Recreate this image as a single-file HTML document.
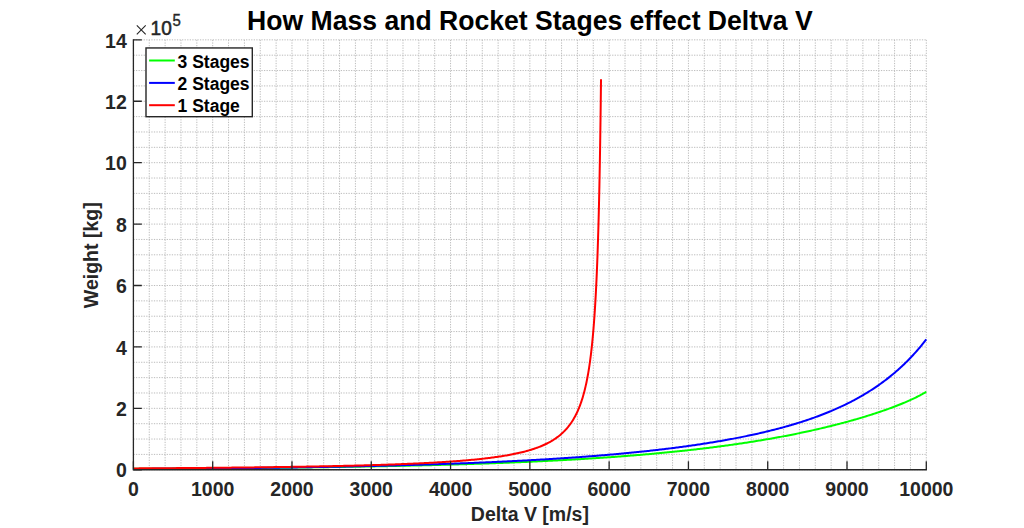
<!DOCTYPE html>
<html><head><meta charset="utf-8"><style>
html,body{margin:0;padding:0;background:#fff;width:1024px;height:528px;overflow:hidden}
svg{display:block;font-family:"Liberation Sans",sans-serif}
</style></head><body>
<svg width="1024" height="528" viewBox="0 0 1024 528">
<rect width="1024" height="528" fill="#fff"/>
<path d="M133.40,39.85V469.75M149.26,39.85V469.75M165.12,39.85V469.75M180.97,39.85V469.75M196.83,39.85V469.75M212.69,39.85V469.75M228.55,39.85V469.75M244.41,39.85V469.75M260.26,39.85V469.75M276.12,39.85V469.75M291.98,39.85V469.75M307.84,39.85V469.75M323.70,39.85V469.75M339.55,39.85V469.75M355.41,39.85V469.75M371.27,39.85V469.75M387.13,39.85V469.75M402.99,39.85V469.75M418.84,39.85V469.75M434.70,39.85V469.75M450.56,39.85V469.75M466.42,39.85V469.75M482.28,39.85V469.75M498.13,39.85V469.75M513.99,39.85V469.75M529.85,39.85V469.75M545.71,39.85V469.75M561.57,39.85V469.75M577.42,39.85V469.75M593.28,39.85V469.75M609.14,39.85V469.75M625.00,39.85V469.75M640.86,39.85V469.75M656.71,39.85V469.75M672.57,39.85V469.75M688.43,39.85V469.75M704.29,39.85V469.75M720.15,39.85V469.75M736.00,39.85V469.75M751.86,39.85V469.75M767.72,39.85V469.75M783.58,39.85V469.75M799.44,39.85V469.75M815.29,39.85V469.75M831.15,39.85V469.75M847.01,39.85V469.75M862.87,39.85V469.75M878.73,39.85V469.75M894.58,39.85V469.75M910.44,39.85V469.75M926.30,39.85V469.75" stroke="#bcbcbc" stroke-width="1" stroke-dasharray="1.28 1.28" fill="none"/><path d="M133.40,469.75H926.30M133.40,454.40H926.30M133.40,439.04H926.30M133.40,423.69H926.30M133.40,408.34H926.30M133.40,392.98H926.30M133.40,377.63H926.30M133.40,362.27H926.30M133.40,346.92H926.30M133.40,331.57H926.30M133.40,316.21H926.30M133.40,300.86H926.30M133.40,285.51H926.30M133.40,270.15H926.30M133.40,254.80H926.30M133.40,239.45H926.30M133.40,224.09H926.30M133.40,208.74H926.30M133.40,193.39H926.30M133.40,178.03H926.30M133.40,162.68H926.30M133.40,147.33H926.30M133.40,131.97H926.30M133.40,116.62H926.30M133.40,101.26H926.30M133.40,85.91H926.30M133.40,70.56H926.30M133.40,55.20H926.30M133.40,39.85H926.30" stroke="#bcbcbc" stroke-width="1" stroke-dasharray="1.28 1.28" fill="none"/>
<g fill="none" stroke-width="2.0" stroke-linejoin="round">
<path d="M133.40,468.83 L134.67,468.83 L135.94,468.82 L137.21,468.81 L138.48,468.81 L139.74,468.80 L141.01,468.79 L142.28,468.79 L143.55,468.78 L144.82,468.78 L146.09,468.77 L147.36,468.76 L148.63,468.76 L149.90,468.75 L151.16,468.74 L152.43,468.74 L153.70,468.73 L154.97,468.72 L156.24,468.72 L157.51,468.71 L158.78,468.70 L160.05,468.70 L161.32,468.69 L162.58,468.68 L163.85,468.67 L165.12,468.67 L166.39,468.66 L167.66,468.65 L168.93,468.64 L170.20,468.64 L171.47,468.63 L172.74,468.62 L174.00,468.61 L175.27,468.61 L176.54,468.60 L177.81,468.59 L179.08,468.58 L180.35,468.58 L181.62,468.57 L182.89,468.56 L184.16,468.55 L185.42,468.54 L186.69,468.54 L187.96,468.53 L189.23,468.52 L190.50,468.51 L191.77,468.50 L193.04,468.49 L194.31,468.49 L195.58,468.48 L196.84,468.47 L198.11,468.46 L199.38,468.45 L200.65,468.44 L201.92,468.43 L203.19,468.43 L204.46,468.42 L205.73,468.41 L207.00,468.40 L208.26,468.39 L209.53,468.38 L210.80,468.37 L212.07,468.36 L213.34,468.35 L214.61,468.34 L215.88,468.33 L217.15,468.32 L218.42,468.31 L219.68,468.30 L220.95,468.29 L222.22,468.28 L223.49,468.27 L224.76,468.26 L226.03,468.25 L227.30,468.24 L228.57,468.23 L229.84,468.22 L231.10,468.21 L232.37,468.20 L233.64,468.19 L234.91,468.18 L236.18,468.17 L237.45,468.16 L238.72,468.15 L239.99,468.14 L241.26,468.13 L242.52,468.11 L243.79,468.10 L245.06,468.09 L246.33,468.08 L247.60,468.07 L248.87,468.06 L250.14,468.05 L251.41,468.03 L252.68,468.02 L253.94,468.01 L255.21,468.00 L256.48,467.99 L257.75,467.97 L259.02,467.96 L260.29,467.95 L261.56,467.94 L262.83,467.92 L264.10,467.91 L265.36,467.90 L266.63,467.89 L267.90,467.87 L269.17,467.86 L270.44,467.85 L271.71,467.83 L272.98,467.82 L274.25,467.81 L275.52,467.79 L276.78,467.78 L278.05,467.77 L279.32,467.75 L280.59,467.74 L281.86,467.73 L283.13,467.71 L284.40,467.70 L285.67,467.68 L286.94,467.67 L288.21,467.65 L289.47,467.64 L290.74,467.63 L292.01,467.61 L293.28,467.60 L294.55,467.58 L295.82,467.57 L297.09,467.55 L298.36,467.54 L299.63,467.52 L300.89,467.50 L302.16,467.49 L303.43,467.47 L304.70,467.46 L305.97,467.44 L307.24,467.43 L308.51,467.41 L309.78,467.39 L311.05,467.38 L312.31,467.36 L313.58,467.34 L314.85,467.33 L316.12,467.31 L317.39,467.29 L318.66,467.28 L319.93,467.26 L321.20,467.24 L322.47,467.22 L323.73,467.21 L325.00,467.19 L326.27,467.17 L327.54,467.15 L328.81,467.13 L330.08,467.12 L331.35,467.10 L332.62,467.08 L333.89,467.06 L335.15,467.04 L336.42,467.02 L337.69,467.00 L338.96,466.98 L340.23,466.96 L341.50,466.94 L342.77,466.92 L344.04,466.90 L345.31,466.88 L346.57,466.86 L347.84,466.84 L349.11,466.82 L350.38,466.80 L351.65,466.78 L352.92,466.76 L354.19,466.74 L355.46,466.72 L356.73,466.70 L357.99,466.68 L359.26,466.66 L360.53,466.63 L361.80,466.61 L363.07,466.59 L364.34,466.57 L365.61,466.55 L366.88,466.52 L368.15,466.50 L369.41,466.48 L370.68,466.45 L371.95,466.43 L373.22,466.41 L374.49,466.38 L375.76,466.36 L377.03,466.34 L378.30,466.31 L379.57,466.29 L380.83,466.26 L382.10,466.24 L383.37,466.21 L384.64,466.19 L385.91,466.16 L387.18,466.14 L388.45,466.11 L389.72,466.09 L390.99,466.06 L392.25,466.04 L393.52,466.01 L394.79,465.98 L396.06,465.96 L397.33,465.93 L398.60,465.90 L399.87,465.88 L401.14,465.85 L402.41,465.82 L403.67,465.79 L404.94,465.76 L406.21,465.74 L407.48,465.71 L408.75,465.68 L410.02,465.65 L411.29,465.62 L412.56,465.59 L413.83,465.56 L415.09,465.53 L416.36,465.50 L417.63,465.47 L418.90,465.44 L420.17,465.41 L421.44,465.38 L422.71,465.35 L423.98,465.32 L425.25,465.29 L426.51,465.26 L427.78,465.23 L429.05,465.19 L430.32,465.16 L431.59,465.13 L432.86,465.10 L434.13,465.06 L435.40,465.03 L436.67,465.00 L437.93,464.96 L439.20,464.93 L440.47,464.89 L441.74,464.86 L443.01,464.82 L444.28,464.79 L445.55,464.75 L446.82,464.72 L448.09,464.68 L449.35,464.65 L450.62,464.61 L451.89,464.57 L453.16,464.54 L454.43,464.50 L455.70,464.46 L456.97,464.43 L458.24,464.39 L459.51,464.35 L460.77,464.31 L462.04,464.27 L463.31,464.23 L464.58,464.19 L465.85,464.16 L467.12,464.12 L468.39,464.08 L469.66,464.03 L470.93,463.99 L472.19,463.95 L473.46,463.91 L474.73,463.87 L476.00,463.83 L477.27,463.79 L478.54,463.74 L479.81,463.70 L481.08,463.66 L482.35,463.61 L483.61,463.57 L484.88,463.53 L486.15,463.48 L487.42,463.44 L488.69,463.39 L489.96,463.35 L491.23,463.30 L492.50,463.26 L493.77,463.21 L495.03,463.16 L496.30,463.12 L497.57,463.07 L498.84,463.02 L500.11,462.97 L501.38,462.93 L502.65,462.88 L503.92,462.83 L505.19,462.78 L506.45,462.73 L507.72,462.68 L508.99,462.63 L510.26,462.58 L511.53,462.53 L512.80,462.47 L514.07,462.42 L515.34,462.37 L516.61,462.32 L517.87,462.26 L519.14,462.21 L520.41,462.16 L521.68,462.10 L522.95,462.05 L524.22,461.99 L525.49,461.94 L526.76,461.88 L528.03,461.83 L529.29,461.77 L530.56,461.71 L531.83,461.65 L533.10,461.60 L534.37,461.54 L535.64,461.48 L536.91,461.42 L538.18,461.36 L539.45,461.30 L540.71,461.24 L541.98,461.18 L543.25,461.12 L544.52,461.06 L545.79,460.99 L547.06,460.93 L548.33,460.87 L549.60,460.81 L550.87,460.74 L552.13,460.68 L553.40,460.61 L554.67,460.55 L555.94,460.48 L557.21,460.41 L558.48,460.35 L559.75,460.28 L561.02,460.21 L562.29,460.14 L563.55,460.08 L564.82,460.01 L566.09,459.94 L567.36,459.87 L568.63,459.80 L569.90,459.72 L571.17,459.65 L572.44,459.58 L573.71,459.51 L574.98,459.43 L576.24,459.36 L577.51,459.29 L578.78,459.21 L580.05,459.14 L581.32,459.06 L582.59,458.98 L583.86,458.91 L585.13,458.83 L586.40,458.75 L587.66,458.67 L588.93,458.59 L590.20,458.51 L591.47,458.43 L592.74,458.35 L594.01,458.27 L595.28,458.19 L596.55,458.10 L597.82,458.02 L599.08,457.94 L600.35,457.85 L601.62,457.77 L602.89,457.68 L604.16,457.59 L605.43,457.51 L606.70,457.42 L607.97,457.33 L609.24,457.24 L610.50,457.15 L611.77,457.06 L613.04,456.97 L614.31,456.88 L615.58,456.79 L616.85,456.69 L618.12,456.60 L619.39,456.50 L620.66,456.41 L621.92,456.31 L623.19,456.22 L624.46,456.12 L625.73,456.02 L627.00,455.92 L628.27,455.83 L629.54,455.73 L630.81,455.62 L632.08,455.52 L633.34,455.42 L634.61,455.32 L635.88,455.21 L637.15,455.11 L638.42,455.01 L639.69,454.90 L640.96,454.79 L642.23,454.69 L643.50,454.58 L644.76,454.47 L646.03,454.36 L647.30,454.25 L648.57,454.14 L649.84,454.02 L651.11,453.91 L652.38,453.80 L653.65,453.68 L654.92,453.57 L656.18,453.45 L657.45,453.34 L658.72,453.22 L659.99,453.10 L661.26,452.98 L662.53,452.86 L663.80,452.74 L665.07,452.61 L666.34,452.49 L667.60,452.37 L668.87,452.24 L670.14,452.12 L671.41,451.99 L672.68,451.86 L673.95,451.73 L675.22,451.60 L676.49,451.47 L677.76,451.34 L679.02,451.21 L680.29,451.08 L681.56,450.94 L682.83,450.81 L684.10,450.67 L685.37,450.54 L686.64,450.40 L687.91,450.26 L689.18,450.12 L690.44,449.98 L691.71,449.83 L692.98,449.69 L694.25,449.55 L695.52,449.40 L696.79,449.26 L698.06,449.11 L699.33,448.96 L700.60,448.81 L701.86,448.66 L703.13,448.51 L704.40,448.36 L705.67,448.20 L706.94,448.05 L708.21,447.89 L709.48,447.73 L710.75,447.58 L712.02,447.42 L713.28,447.26 L714.55,447.09 L715.82,446.93 L717.09,446.77 L718.36,446.60 L719.63,446.43 L720.90,446.27 L722.17,446.10 L723.44,445.93 L724.70,445.76 L725.97,445.58 L727.24,445.41 L728.51,445.23 L729.78,445.06 L731.05,444.88 L732.32,444.70 L733.59,444.52 L734.86,444.34 L736.12,444.16 L737.39,443.97 L738.66,443.79 L739.93,443.60 L741.20,443.41 L742.47,443.22 L743.74,443.03 L745.01,442.84 L746.28,442.65 L747.54,442.45 L748.81,442.26 L750.08,442.06 L751.35,441.86 L752.62,441.66 L753.89,441.46 L755.16,441.25 L756.43,441.05 L757.70,440.84 L758.96,440.63 L760.23,440.42 L761.50,440.21 L762.77,440.00 L764.04,439.78 L765.31,439.57 L766.58,439.35 L767.85,439.13 L769.12,438.91 L770.38,438.69 L771.65,438.47 L772.92,438.24 L774.19,438.01 L775.46,437.79 L776.73,437.56 L778.00,437.32 L779.27,437.09 L780.54,436.86 L781.80,436.62 L783.07,436.38 L784.34,436.14 L785.61,435.90 L786.88,435.65 L788.15,435.41 L789.42,435.16 L790.69,434.91 L791.96,434.66 L793.22,434.41 L794.49,434.15 L795.76,433.90 L797.03,433.64 L798.30,433.38 L799.57,433.12 L800.84,432.85 L802.11,432.59 L803.38,432.32 L804.64,432.05 L805.91,431.78 L807.18,431.50 L808.45,431.23 L809.72,430.95 L810.99,430.67 L812.26,430.39 L813.53,430.10 L814.80,429.82 L816.06,429.53 L817.33,429.24 L818.60,428.95 L819.87,428.65 L821.14,428.36 L822.41,428.06 L823.68,427.76 L824.95,427.46 L826.22,427.15 L827.48,426.84 L828.75,426.53 L830.02,426.22 L831.29,425.91 L832.56,425.59 L833.83,425.27 L835.10,424.95 L836.37,424.63 L837.64,424.30 L838.90,423.97 L840.17,423.64 L841.44,423.31 L842.71,422.97 L843.98,422.63 L845.25,422.29 L846.52,421.95 L847.79,421.60 L849.06,421.25 L850.32,420.90 L851.59,420.54 L852.86,420.19 L854.13,419.83 L855.40,419.46 L856.67,419.10 L857.94,418.73 L859.21,418.36 L860.48,417.98 L861.75,417.61 L863.01,417.23 L864.28,416.84 L865.55,416.46 L866.82,416.07 L868.09,415.67 L869.36,415.28 L870.63,414.88 L871.90,414.47 L873.17,414.07 L874.43,413.65 L875.70,413.24 L876.97,412.82 L878.24,412.40 L879.51,411.97 L880.78,411.55 L882.05,411.11 L883.32,410.67 L884.59,410.23 L885.85,409.78 L887.12,409.33 L888.39,408.88 L889.66,408.42 L890.93,407.95 L892.20,407.48 L893.47,407.00 L894.74,406.52 L896.01,406.03 L897.27,405.54 L898.54,405.04 L899.81,404.53 L901.08,404.02 L902.35,403.50 L903.46,403.04 L904.57,402.57 L905.68,402.10 L906.79,401.62 L907.90,401.14 L909.01,400.65 L910.12,400.15 L911.23,399.64 L912.34,399.13 L913.45,398.60 L914.56,398.07 L915.67,397.54 L916.78,396.99 L917.89,396.43 L919.00,395.86 L920.11,395.29 L921.22,394.70 L922.33,394.10 L923.44,393.48 L924.56,392.86 L925.67,392.22 L926.30,391.85" stroke="#00ff00"/>
<path d="M133.40,469.00 L134.67,468.99 L135.94,468.98 L137.21,468.97 L138.48,468.97 L139.74,468.96 L141.01,468.95 L142.28,468.94 L143.55,468.93 L144.82,468.92 L146.09,468.92 L147.36,468.91 L148.63,468.90 L149.90,468.89 L151.16,468.88 L152.43,468.87 L153.70,468.87 L154.97,468.86 L156.24,468.85 L157.51,468.84 L158.78,468.83 L160.05,468.82 L161.32,468.81 L162.58,468.80 L163.85,468.79 L165.12,468.79 L166.39,468.78 L167.66,468.77 L168.93,468.76 L170.20,468.75 L171.47,468.74 L172.74,468.73 L174.00,468.72 L175.27,468.71 L176.54,468.70 L177.81,468.69 L179.08,468.68 L180.35,468.67 L181.62,468.66 L182.89,468.65 L184.16,468.64 L185.42,468.63 L186.69,468.62 L187.96,468.61 L189.23,468.60 L190.50,468.59 L191.77,468.58 L193.04,468.57 L194.31,468.56 L195.58,468.55 L196.84,468.53 L198.11,468.52 L199.38,468.51 L200.65,468.50 L201.92,468.49 L203.19,468.48 L204.46,468.47 L205.73,468.46 L207.00,468.44 L208.26,468.43 L209.53,468.42 L210.80,468.41 L212.07,468.40 L213.34,468.38 L214.61,468.37 L215.88,468.36 L217.15,468.35 L218.42,468.34 L219.68,468.32 L220.95,468.31 L222.22,468.30 L223.49,468.29 L224.76,468.27 L226.03,468.26 L227.30,468.25 L228.57,468.23 L229.84,468.22 L231.10,468.21 L232.37,468.19 L233.64,468.18 L234.91,468.17 L236.18,468.15 L237.45,468.14 L238.72,468.13 L239.99,468.11 L241.26,468.10 L242.52,468.08 L243.79,468.07 L245.06,468.06 L246.33,468.04 L247.60,468.03 L248.87,468.01 L250.14,468.00 L251.41,467.98 L252.68,467.97 L253.94,467.95 L255.21,467.94 L256.48,467.92 L257.75,467.91 L259.02,467.89 L260.29,467.88 L261.56,467.86 L262.83,467.85 L264.10,467.83 L265.36,467.81 L266.63,467.80 L267.90,467.78 L269.17,467.77 L270.44,467.75 L271.71,467.73 L272.98,467.72 L274.25,467.70 L275.52,467.68 L276.78,467.67 L278.05,467.65 L279.32,467.63 L280.59,467.61 L281.86,467.60 L283.13,467.58 L284.40,467.56 L285.67,467.54 L286.94,467.52 L288.21,467.51 L289.47,467.49 L290.74,467.47 L292.01,467.45 L293.28,467.43 L294.55,467.41 L295.82,467.40 L297.09,467.38 L298.36,467.36 L299.63,467.34 L300.89,467.32 L302.16,467.30 L303.43,467.28 L304.70,467.26 L305.97,467.24 L307.24,467.22 L308.51,467.20 L309.78,467.18 L311.05,467.16 L312.31,467.14 L313.58,467.12 L314.85,467.10 L316.12,467.07 L317.39,467.05 L318.66,467.03 L319.93,467.01 L321.20,466.99 L322.47,466.97 L323.73,466.94 L325.00,466.92 L326.27,466.90 L327.54,466.88 L328.81,466.85 L330.08,466.83 L331.35,466.81 L332.62,466.79 L333.89,466.76 L335.15,466.74 L336.42,466.72 L337.69,466.69 L338.96,466.67 L340.23,466.64 L341.50,466.62 L342.77,466.59 L344.04,466.57 L345.31,466.54 L346.57,466.52 L347.84,466.49 L349.11,466.47 L350.38,466.44 L351.65,466.42 L352.92,466.39 L354.19,466.37 L355.46,466.34 L356.73,466.31 L357.99,466.29 L359.26,466.26 L360.53,466.23 L361.80,466.21 L363.07,466.18 L364.34,466.15 L365.61,466.12 L366.88,466.09 L368.15,466.07 L369.41,466.04 L370.68,466.01 L371.95,465.98 L373.22,465.95 L374.49,465.92 L375.76,465.89 L377.03,465.86 L378.30,465.83 L379.57,465.80 L380.83,465.77 L382.10,465.74 L383.37,465.71 L384.64,465.68 L385.91,465.65 L387.18,465.62 L388.45,465.59 L389.72,465.56 L390.99,465.52 L392.25,465.49 L393.52,465.46 L394.79,465.43 L396.06,465.39 L397.33,465.36 L398.60,465.33 L399.87,465.29 L401.14,465.26 L402.41,465.23 L403.67,465.19 L404.94,465.16 L406.21,465.12 L407.48,465.09 L408.75,465.05 L410.02,465.02 L411.29,464.98 L412.56,464.94 L413.83,464.91 L415.09,464.87 L416.36,464.83 L417.63,464.80 L418.90,464.76 L420.17,464.72 L421.44,464.68 L422.71,464.65 L423.98,464.61 L425.25,464.57 L426.51,464.53 L427.78,464.49 L429.05,464.45 L430.32,464.41 L431.59,464.37 L432.86,464.33 L434.13,464.29 L435.40,464.25 L436.67,464.21 L437.93,464.17 L439.20,464.12 L440.47,464.08 L441.74,464.04 L443.01,464.00 L444.28,463.95 L445.55,463.91 L446.82,463.87 L448.09,463.82 L449.35,463.78 L450.62,463.73 L451.89,463.69 L453.16,463.64 L454.43,463.60 L455.70,463.55 L456.97,463.51 L458.24,463.46 L459.51,463.41 L460.77,463.37 L462.04,463.32 L463.31,463.27 L464.58,463.22 L465.85,463.18 L467.12,463.13 L468.39,463.08 L469.66,463.03 L470.93,462.98 L472.19,462.93 L473.46,462.88 L474.73,462.83 L476.00,462.77 L477.27,462.72 L478.54,462.67 L479.81,462.62 L481.08,462.57 L482.35,462.51 L483.61,462.46 L484.88,462.40 L486.15,462.35 L487.42,462.30 L488.69,462.24 L489.96,462.19 L491.23,462.13 L492.50,462.07 L493.77,462.02 L495.03,461.96 L496.30,461.90 L497.57,461.84 L498.84,461.79 L500.11,461.73 L501.38,461.67 L502.65,461.61 L503.92,461.55 L505.19,461.49 L506.45,461.43 L507.72,461.37 L508.99,461.30 L510.26,461.24 L511.53,461.18 L512.80,461.12 L514.07,461.05 L515.34,460.99 L516.61,460.92 L517.87,460.86 L519.14,460.79 L520.41,460.73 L521.68,460.66 L522.95,460.60 L524.22,460.53 L525.49,460.46 L526.76,460.39 L528.03,460.32 L529.29,460.25 L530.56,460.18 L531.83,460.11 L533.10,460.04 L534.37,459.97 L535.64,459.90 L536.91,459.83 L538.18,459.76 L539.45,459.68 L540.71,459.61 L541.98,459.53 L543.25,459.46 L544.52,459.38 L545.79,459.31 L547.06,459.23 L548.33,459.16 L549.60,459.08 L550.87,459.00 L552.13,458.92 L553.40,458.84 L554.67,458.76 L555.94,458.68 L557.21,458.60 L558.48,458.52 L559.75,458.44 L561.02,458.35 L562.29,458.27 L563.55,458.19 L564.82,458.10 L566.09,458.02 L567.36,457.93 L568.63,457.84 L569.90,457.76 L571.17,457.67 L572.44,457.58 L573.71,457.49 L574.98,457.40 L576.24,457.31 L577.51,457.22 L578.78,457.13 L580.05,457.04 L581.32,456.94 L582.59,456.85 L583.86,456.76 L585.13,456.66 L586.40,456.57 L587.66,456.47 L588.93,456.37 L590.20,456.27 L591.47,456.18 L592.74,456.08 L594.01,455.98 L595.28,455.88 L596.55,455.77 L597.82,455.67 L599.08,455.57 L600.35,455.47 L601.62,455.36 L602.89,455.26 L604.16,455.15 L605.43,455.04 L606.70,454.94 L607.97,454.83 L609.24,454.72 L610.50,454.61 L611.77,454.50 L613.04,454.39 L614.31,454.27 L615.58,454.16 L616.85,454.05 L618.12,453.93 L619.39,453.81 L620.66,453.70 L621.92,453.58 L623.19,453.46 L624.46,453.34 L625.73,453.22 L627.00,453.10 L628.27,452.98 L629.54,452.85 L630.81,452.73 L632.08,452.61 L633.34,452.48 L634.61,452.35 L635.88,452.23 L637.15,452.10 L638.42,451.97 L639.69,451.84 L640.96,451.70 L642.23,451.57 L643.50,451.44 L644.76,451.30 L646.03,451.17 L647.30,451.03 L648.57,450.89 L649.84,450.75 L651.11,450.61 L652.38,450.47 L653.65,450.33 L654.92,450.19 L656.18,450.04 L657.45,449.90 L658.72,449.75 L659.99,449.60 L661.26,449.45 L662.53,449.30 L663.80,449.15 L665.07,449.00 L666.34,448.85 L667.60,448.69 L668.87,448.53 L670.14,448.38 L671.41,448.22 L672.68,448.06 L673.95,447.90 L675.22,447.73 L676.49,447.57 L677.76,447.41 L679.02,447.24 L680.29,447.07 L681.56,446.90 L682.83,446.73 L684.10,446.56 L685.37,446.39 L686.64,446.21 L687.91,446.04 L689.18,445.86 L690.44,445.68 L691.71,445.50 L692.98,445.32 L694.25,445.14 L695.52,444.95 L696.79,444.76 L698.06,444.58 L699.33,444.39 L700.60,444.20 L701.86,444.00 L703.13,443.81 L704.40,443.61 L705.67,443.42 L706.94,443.22 L708.21,443.02 L709.48,442.81 L710.75,442.61 L712.02,442.40 L713.28,442.20 L714.55,441.99 L715.82,441.78 L717.09,441.56 L718.36,441.35 L719.63,441.13 L720.90,440.91 L722.17,440.69 L723.44,440.47 L724.70,440.25 L725.97,440.02 L727.24,439.79 L728.51,439.56 L729.78,439.33 L731.05,439.10 L732.32,438.86 L733.59,438.62 L734.86,438.38 L736.12,438.14 L737.39,437.89 L738.66,437.64 L739.93,437.40 L741.20,437.14 L742.47,436.89 L743.74,436.63 L745.01,436.37 L746.28,436.11 L747.54,435.85 L748.81,435.58 L750.08,435.32 L751.35,435.04 L752.62,434.77 L753.89,434.49 L755.16,434.22 L756.43,433.93 L757.70,433.65 L758.96,433.36 L760.23,433.07 L761.50,432.78 L762.77,432.49 L764.04,432.19 L765.31,431.89 L766.58,431.58 L767.85,431.28 L769.12,430.97 L770.38,430.65 L771.65,430.34 L772.92,430.02 L774.19,429.70 L775.46,429.37 L776.73,429.04 L778.00,428.71 L779.27,428.37 L780.54,428.04 L781.80,427.69 L783.07,427.35 L784.34,427.00 L785.61,426.64 L786.88,426.29 L788.15,425.93 L789.42,425.56 L790.69,425.19 L791.96,424.82 L793.22,424.44 L794.49,424.06 L795.76,423.68 L797.03,423.29 L798.30,422.90 L799.57,422.50 L800.84,422.10 L802.11,421.69 L803.38,421.28 L804.64,420.87 L805.91,420.44 L807.18,420.02 L808.45,419.59 L809.72,419.16 L810.99,418.72 L812.26,418.27 L813.53,417.82 L814.80,417.37 L816.06,416.91 L817.33,416.44 L818.60,415.97 L819.87,415.49 L821.14,415.01 L822.41,414.52 L823.68,414.03 L824.95,413.53 L826.22,413.02 L827.48,412.51 L828.75,411.99 L829.86,411.53 L830.97,411.07 L832.08,410.60 L833.19,410.13 L834.31,409.65 L835.42,409.16 L836.53,408.67 L837.64,408.18 L838.75,407.67 L839.86,407.17 L840.97,406.66 L842.08,406.14 L843.19,405.61 L844.30,405.08 L845.41,404.55 L846.52,404.00 L847.63,403.46 L848.74,402.90 L849.85,402.34 L850.96,401.77 L852.07,401.20 L853.18,400.61 L854.29,400.03 L855.40,399.43 L856.51,398.83 L857.62,398.22 L858.73,397.60 L859.84,396.97 L860.95,396.34 L862.06,395.70 L863.17,395.05 L864.28,394.40 L865.39,393.73 L866.50,393.06 L867.61,392.38 L868.72,391.69 L869.83,390.99 L870.94,390.28 L872.05,389.56 L873.17,388.84 L874.28,388.10 L875.39,387.36 L876.50,386.60 L877.61,385.84 L878.72,385.06 L879.83,384.28 L880.94,383.48 L882.05,382.68 L883.16,381.86 L884.27,381.04 L885.38,380.20 L886.49,379.35 L887.44,378.61 L888.39,377.86 L889.34,377.11 L890.30,376.35 L891.25,375.57 L892.20,374.79 L893.15,374.00 L894.10,373.20 L895.05,372.39 L896.01,371.57 L896.96,370.74 L897.91,369.90 L898.86,369.05 L899.81,368.19 L900.76,367.32 L901.72,366.44 L902.67,365.55 L903.62,364.65 L904.57,363.73 L905.52,362.81 L906.47,361.87 L907.43,360.92 L908.38,359.96 L909.33,358.99 L910.28,358.00 L911.23,357.01 L912.18,356.00 L913.14,354.97 L914.09,353.94 L915.04,352.89 L915.99,351.83 L916.94,350.75 L917.73,349.84 L918.53,348.93 L919.32,348.00 L920.11,347.06 L920.91,346.11 L921.70,345.16 L922.49,344.19 L923.29,343.21 L924.08,342.22 L924.87,341.22 L925.67,340.21 L926.30,339.39" stroke="#0000ff"/>
<path d="M133.40,468.41 L134.60,468.40 L135.81,468.40 L137.01,468.39 L138.21,468.38 L139.42,468.37 L140.62,468.37 L141.82,468.36 L143.03,468.35 L144.23,468.34 L145.43,468.34 L146.64,468.33 L147.84,468.32 L149.05,468.31 L150.25,468.31 L151.45,468.30 L152.66,468.29 L153.86,468.28 L155.06,468.27 L156.27,468.27 L157.47,468.26 L158.67,468.25 L159.88,468.24 L161.08,468.23 L162.28,468.22 L163.49,468.22 L164.69,468.21 L165.89,468.20 L167.10,468.19 L168.30,468.18 L169.50,468.17 L170.71,468.16 L171.91,468.16 L173.11,468.15 L174.32,468.14 L175.52,468.13 L176.73,468.12 L177.93,468.11 L179.13,468.10 L180.34,468.09 L181.54,468.08 L182.74,468.07 L183.95,468.06 L185.15,468.05 L186.35,468.04 L187.56,468.03 L188.76,468.02 L189.96,468.01 L191.17,468.01 L192.37,468.00 L193.57,467.99 L194.78,467.98 L195.98,467.96 L197.18,467.95 L198.39,467.94 L199.59,467.93 L200.80,467.92 L202.00,467.91 L203.20,467.90 L204.41,467.89 L205.61,467.88 L206.81,467.87 L208.02,467.86 L209.22,467.85 L210.42,467.84 L211.63,467.83 L212.83,467.82 L214.03,467.80 L215.24,467.79 L216.44,467.78 L217.64,467.77 L218.85,467.76 L220.05,467.75 L221.25,467.73 L222.46,467.72 L223.66,467.71 L224.86,467.70 L226.07,467.69 L227.27,467.67 L228.48,467.66 L229.68,467.65 L230.88,467.64 L232.09,467.62 L233.29,467.61 L234.49,467.60 L235.70,467.59 L236.90,467.57 L238.10,467.56 L239.31,467.55 L240.51,467.53 L241.71,467.52 L242.92,467.51 L244.12,467.49 L245.32,467.48 L246.53,467.47 L247.73,467.45 L248.93,467.44 L250.14,467.42 L251.34,467.41 L252.54,467.40 L253.75,467.38 L254.95,467.37 L256.16,467.35 L257.36,467.34 L258.56,467.32 L259.77,467.31 L260.97,467.29 L262.17,467.28 L263.38,467.26 L264.58,467.25 L265.78,467.23 L266.99,467.21 L268.19,467.20 L269.39,467.18 L270.60,467.17 L271.80,467.15 L273.00,467.13 L274.21,467.12 L275.41,467.10 L276.61,467.08 L277.82,467.07 L279.02,467.05 L280.22,467.03 L281.43,467.01 L282.63,467.00 L283.84,466.98 L285.04,466.96 L286.24,466.94 L287.45,466.93 L288.65,466.91 L289.85,466.89 L291.06,466.87 L292.26,466.85 L293.46,466.83 L294.67,466.81 L295.87,466.79 L297.07,466.78 L298.28,466.76 L299.48,466.74 L300.68,466.72 L301.89,466.70 L303.09,466.68 L304.29,466.66 L305.50,466.63 L306.70,466.61 L307.91,466.59 L309.11,466.57 L310.31,466.55 L311.52,466.53 L312.72,466.51 L313.92,466.49 L315.13,466.46 L316.33,466.44 L317.53,466.42 L318.74,466.40 L319.94,466.37 L321.14,466.35 L322.35,466.33 L323.55,466.30 L324.75,466.28 L325.96,466.25 L327.16,466.23 L328.36,466.21 L329.57,466.18 L330.77,466.16 L331.97,466.13 L333.18,466.11 L334.38,466.08 L335.59,466.05 L336.79,466.03 L337.99,466.00 L339.20,465.97 L340.40,465.95 L341.60,465.92 L342.81,465.89 L344.01,465.87 L345.21,465.84 L346.42,465.81 L347.62,465.78 L348.82,465.75 L350.03,465.72 L351.23,465.69 L352.43,465.66 L353.64,465.63 L354.84,465.60 L356.04,465.57 L357.25,465.54 L358.45,465.51 L359.65,465.48 L360.86,465.45 L362.06,465.41 L363.27,465.38 L364.47,465.35 L365.67,465.31 L366.88,465.28 L368.08,465.25 L369.28,465.21 L370.49,465.18 L371.69,465.14 L372.89,465.11 L374.10,465.07 L375.30,465.03 L376.50,465.00 L377.71,464.96 L378.91,464.92 L380.11,464.88 L381.32,464.85 L382.52,464.81 L383.72,464.77 L384.93,464.73 L386.13,464.69 L387.34,464.65 L388.54,464.60 L389.74,464.56 L390.95,464.52 L392.15,464.48 L393.35,464.43 L394.56,464.39 L395.76,464.35 L396.96,464.30 L398.17,464.26 L399.37,464.21 L400.57,464.16 L401.78,464.12 L402.98,464.07 L404.18,464.02 L405.39,463.97 L406.59,463.92 L407.79,463.87 L409.00,463.82 L410.20,463.77 L411.40,463.72 L412.61,463.67 L413.81,463.61 L415.02,463.56 L416.22,463.50 L417.42,463.45 L418.63,463.39 L419.83,463.33 L421.03,463.28 L422.24,463.22 L423.44,463.16 L424.64,463.10 L425.85,463.04 L427.05,462.97 L428.25,462.91 L429.46,462.85 L430.66,462.78 L431.86,462.72 L433.07,462.65 L434.27,462.58 L435.47,462.51 L436.68,462.44 L437.88,462.37 L439.08,462.30 L440.29,462.23 L441.49,462.16 L442.70,462.08 L443.90,462.00 L445.10,461.93 L446.31,461.85 L447.51,461.77 L448.71,461.69 L449.92,461.61 L451.12,461.52 L452.32,461.44 L453.53,461.35 L454.73,461.26 L455.93,461.17 L457.14,461.08 L458.34,460.99 L459.54,460.90 L460.75,460.80 L461.95,460.71 L463.15,460.61 L464.36,460.51 L465.56,460.40 L466.76,460.30 L467.97,460.19 L469.17,460.09 L470.38,459.98 L471.58,459.87 L472.78,459.75 L473.99,459.64 L475.19,459.52 L476.39,459.40 L477.60,459.28 L478.80,459.15 L480.00,459.02 L481.21,458.89 L482.41,458.76 L483.61,458.62 L484.82,458.49 L486.02,458.35 L487.22,458.20 L488.43,458.06 L489.63,457.91 L490.83,457.75 L492.04,457.60 L493.24,457.44 L494.45,457.27 L495.65,457.11 L496.85,456.94 L498.06,456.76 L499.26,456.58 L500.46,456.40 L501.67,456.21 L502.87,456.02 L504.07,455.83 L505.28,455.63 L506.48,455.42 L507.68,455.21 L508.89,454.99 L510.09,454.77 L511.27,454.55 L512.45,454.32 L513.63,454.08 L514.81,453.84 L515.99,453.60 L517.17,453.34 L518.35,453.08 L519.53,452.81 L520.71,452.54 L521.89,452.26 L523.07,451.96 L524.25,451.66 L525.43,451.35 L526.61,451.04 L527.77,450.72 L528.92,450.38 L530.08,450.04 L531.23,449.69 L532.39,449.33 L533.55,448.95 L534.70,448.56 L535.86,448.16 L536.99,447.76 L538.12,447.34 L539.26,446.90 L540.39,446.46 L541.52,445.99 L542.63,445.52 L543.74,445.03 L544.85,444.52 L545.94,444.01 L547.02,443.48 L548.11,442.92 L549.17,442.36 L550.23,441.77 L551.29,441.17 L552.33,440.55 L553.37,439.91 L554.38,439.25 L555.40,438.57 L556.39,437.88 L557.38,437.16 L558.35,436.43 L559.29,435.69 L560.24,434.91 L561.16,434.13 L562.05,433.33 L562.95,432.49 L563.82,431.65 L564.67,430.79 L565.52,429.89 L566.35,428.99 L567.15,428.07 L567.93,427.14 L568.68,426.20 L569.44,425.22 L570.17,424.23 L570.88,423.23 L571.56,422.23 L572.22,421.22 L572.88,420.17 L573.52,419.12 L574.13,418.06 L574.72,417.01 L575.31,415.91 L575.88,414.82 L576.42,413.73 L576.97,412.60 L577.49,411.48 L577.98,410.37 L578.48,409.22 L578.95,408.09 L579.40,406.97 L579.85,405.81 L580.27,404.68 L580.69,403.50 L581.10,402.36 L581.50,401.17 L581.87,400.02 L582.25,398.83 L582.61,397.68 L582.96,396.49 L583.31,395.27 L583.64,394.08 L583.97,392.87 L584.28,391.70 L584.59,390.51 L584.90,389.27 L585.18,388.10 L585.46,386.89 L585.74,385.65 L586.03,384.37 L586.29,383.17 L586.55,381.93 L586.81,380.66 L587.04,379.47 L587.28,378.25 L587.51,377.00 L587.75,375.72 L587.96,374.53 L588.18,373.32 L588.39,372.07 L588.60,370.80 L588.81,369.49 L589.00,368.29 L589.19,367.07 L589.38,365.82 L589.57,364.54 L589.76,363.23 L589.95,361.89 L590.11,360.69 L590.28,359.46 L590.44,358.20 L590.61,356.92 L590.77,355.60 L590.94,354.26 L591.10,352.89 L591.24,351.68 L591.38,350.46 L591.53,349.20 L591.67,347.92 L591.81,346.62 L591.95,345.29 L592.09,343.92 L592.23,342.53 L592.38,341.11 L592.49,339.90 L592.61,338.67 L592.73,337.42 L592.85,336.14 L592.97,334.84 L593.08,333.51 L593.20,332.16 L593.32,330.78 L593.44,329.37 L593.56,327.94 L593.67,326.47 L593.79,324.98 L593.89,323.76 L593.98,322.53 L594.07,321.27 L594.17,319.99 L594.26,318.69 L594.36,317.37 L594.45,316.02 L594.55,314.65 L594.64,313.26 L594.74,311.84 L594.83,310.39 L594.92,308.92 L595.02,307.43 L595.11,305.90 L595.21,304.35 L595.30,302.77 L595.37,301.56 L595.44,300.34 L595.51,299.10 L595.58,297.84 L595.66,296.56 L595.73,295.27 L595.80,293.95 L595.87,292.62 L595.94,291.26 L596.01,289.88 L596.08,288.49 L596.15,287.07 L596.22,285.63 L596.29,284.17 L596.36,282.68 L596.43,281.17 L596.51,279.64 L596.58,278.08 L596.65,276.50 L596.72,274.89 L596.79,273.25 L596.86,271.59 L596.93,269.90 L597.00,268.18 L597.07,266.43 L597.14,264.65 L597.19,263.45 L597.24,262.23 L597.28,261.00 L597.33,259.75 L597.38,258.49 L597.43,257.22 L597.47,255.93 L597.52,254.62 L597.57,253.30 L597.61,251.96 L597.66,250.60 L597.71,249.23 L597.76,247.84 L597.80,246.44 L597.85,245.01 L597.90,243.57 L597.94,242.11 L597.99,240.63 L598.04,239.13 L598.09,237.62 L598.13,236.08 L598.18,234.52 L598.23,232.94 L598.28,231.35 L598.32,229.72 L598.37,228.08 L598.42,226.42 L598.46,224.73 L598.51,223.02 L598.56,221.28 L598.61,219.53 L598.65,217.74 L598.70,215.93 L598.75,214.10 L598.79,212.24 L598.84,210.35 L598.89,208.43 L598.94,206.49 L598.98,204.52 L599.03,202.52 L599.08,200.48 L599.12,198.42 L599.17,196.33 L599.22,194.20 L599.27,192.04 L599.31,189.85 L599.36,187.62 L599.41,185.36 L599.45,183.06 L599.50,180.72 L599.55,178.35 L599.57,177.14 L599.60,175.93 L599.62,174.71 L599.64,173.48 L599.67,172.24 L599.69,170.99 L599.71,169.72 L599.74,168.45 L599.76,167.17 L599.79,165.87 L599.81,164.56 L599.83,163.25 L599.86,161.92 L599.88,160.58 L599.90,159.23 L599.93,157.86 L599.95,156.49 L599.97,155.10 L600.00,153.70 L600.02,152.29 L600.04,150.87 L600.07,149.43 L600.09,147.98 L600.12,146.52 L600.14,145.04 L600.16,143.55 L600.19,142.05 L600.21,140.53 L600.23,139.00 L600.26,137.46 L600.28,135.90 L600.30,134.32 L600.33,132.73 L600.35,131.13 L600.38,129.51 L600.40,127.88 L600.42,126.23 L600.45,124.56 L600.47,122.88 L600.49,121.18 L600.52,119.47 L600.54,117.73 L600.56,115.98 L600.59,114.22 L600.61,112.44 L600.63,110.63 L600.66,108.81 L600.68,106.98 L600.71,105.12 L600.73,103.24 L600.75,101.35 L600.78,99.44 L600.80,97.50 L600.82,95.55 L600.85,93.57 L600.87,91.58 L600.89,89.56 L600.92,87.52 L600.94,85.46 L600.97,83.38 L600.99,81.28 L601.01,79.15 L601.01,79.15" stroke="#ff0000"/>
</g>
<path d="M133.40,39.85V469.75H926.30" stroke="#262626" stroke-width="1.3" fill="none" stroke-linecap="square"/><path d="M133.40,469.75V461.35M212.69,469.75V461.35M291.98,469.75V461.35M371.27,469.75V461.35M450.56,469.75V461.35M529.85,469.75V461.35M609.14,469.75V461.35M688.43,469.75V461.35M767.72,469.75V461.35M847.01,469.75V461.35M926.30,469.75V461.35M133.40,469.75H141.80M133.40,408.34H141.80M133.40,346.92H141.80M133.40,285.51H141.80M133.40,224.09H141.80M133.40,162.68H141.80M133.40,101.26H141.80M133.40,39.85H141.80" stroke="#262626" stroke-width="1.3" fill="none"/>
<g font-size="19.5" font-weight="bold" fill="#262626"><text transform="translate(133.40,495.7) scale(1,1.035)" text-anchor="middle">0</text><text transform="translate(212.69,495.7) scale(1,1.035)" text-anchor="middle">1000</text><text transform="translate(291.98,495.7) scale(1,1.035)" text-anchor="middle">2000</text><text transform="translate(371.27,495.7) scale(1,1.035)" text-anchor="middle">3000</text><text transform="translate(450.56,495.7) scale(1,1.035)" text-anchor="middle">4000</text><text transform="translate(529.85,495.7) scale(1,1.035)" text-anchor="middle">5000</text><text transform="translate(609.14,495.7) scale(1,1.035)" text-anchor="middle">6000</text><text transform="translate(688.43,495.7) scale(1,1.035)" text-anchor="middle">7000</text><text transform="translate(767.72,495.7) scale(1,1.035)" text-anchor="middle">8000</text><text transform="translate(847.01,495.7) scale(1,1.035)" text-anchor="middle">9000</text><text transform="translate(926.30,495.7) scale(1,1.035)" text-anchor="middle">10000</text><text transform="translate(126.8,477.45) scale(1,1.035)" text-anchor="end">0</text><text transform="translate(126.8,416.04) scale(1,1.035)" text-anchor="end">2</text><text transform="translate(126.8,354.62) scale(1,1.035)" text-anchor="end">4</text><text transform="translate(126.8,293.21) scale(1,1.035)" text-anchor="end">6</text><text transform="translate(126.8,231.79) scale(1,1.035)" text-anchor="end">8</text><text transform="translate(126.8,170.38) scale(1,1.035)" text-anchor="end">10</text><text transform="translate(126.8,108.96) scale(1,1.035)" text-anchor="end">12</text><text transform="translate(126.8,47.55) scale(1,1.035)" text-anchor="end">14</text></g>
<text transform="translate(529.9,30.2) scale(1,1.035)" text-anchor="middle" font-size="26.6" font-weight="bold" fill="#000">How Mass and Rocket Stages effect Deltva V</text>
<text x="529.9" y="520.7" text-anchor="middle" font-size="19.5" font-weight="bold" fill="#262626">Delta V [m/s]</text>
<text transform="translate(97.7,255.25) rotate(-90)" x="0" y="0" text-anchor="middle" font-size="19.5" font-weight="bold" fill="#262626">Weight [kg]</text>
<g fill="#262626">
<path d="M136.8,25.4L145.7,34.3M145.7,25.4L136.8,34.3" stroke="#262626" stroke-width="1.1" fill="none"/>
<text transform="translate(150.6,35.2) scale(1,1.05)" font-size="19.1" stroke="#262626" stroke-width="0.5">10</text>
<text transform="translate(172.5,25.8) scale(1,1.08)" font-size="15" stroke="#262626" stroke-width="0.35">5</text>
</g>
<rect x="146.0" y="47.95" width="106.3" height="68.75" fill="#fff" stroke="#262626" stroke-width="1.4"/>
<g stroke-width="2"><path d="M149.1,60.5H174.8" stroke="#00ff00"/><path d="M149.1,82.9H174.8" stroke="#0000ff"/><path d="M149.1,105.2H174.8" stroke="#ff0000"/></g>
<g font-size="17.5" font-weight="bold" fill="#000">
<text x="177.6" y="67.6">3 Stages</text><text x="177.6" y="89.9">2 Stages</text><text x="177.6" y="112.1">1 Stage</text></g>
</svg>
</body></html>
